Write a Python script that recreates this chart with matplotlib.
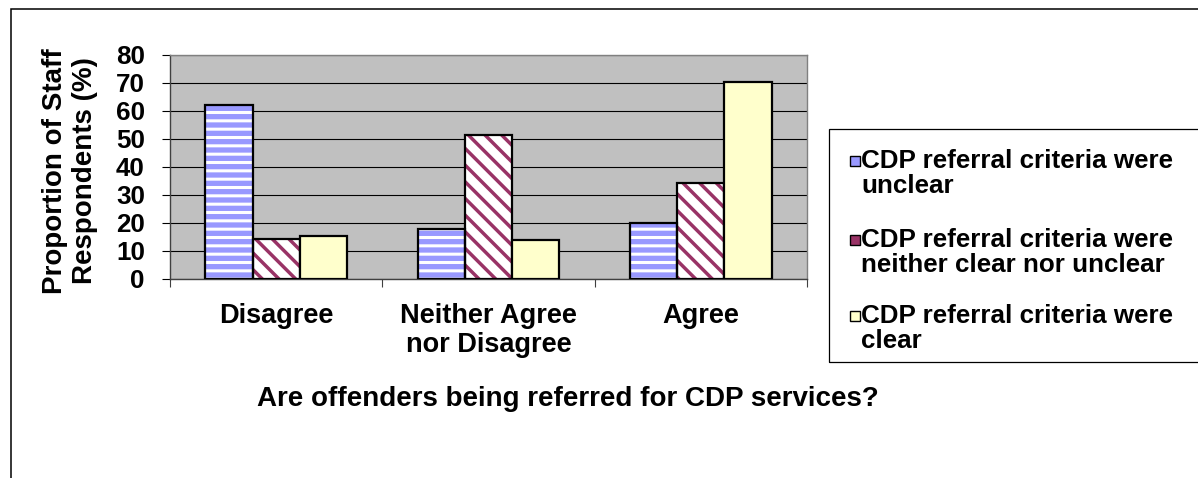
import numpy as np
import matplotlib
matplotlib.use("Agg")
import matplotlib.pyplot as plt
from matplotlib.patches import Rectangle

# survey responses (% of staff respondents)
categories = ["Disagree", "Neither Agree\nnor Disagree", "Agree"]
series_names = [
    "CDP referral criteria were\nunclear",
    "CDP referral criteria were\nneither clear nor unclear",
    "CDP referral criteria were\nclear",
]
unclear = [62, 18, 20]
neither = [14.3, 51.5, 34.4]
clear = [15.5, 14, 70.5]
yticks = [0, 10, 20, 30, 40, 50, 60, 70, 80]

plt.rcParams['font.family'] = ['Liberation Sans', 'DejaVu Sans']
plt.rcParams['font.weight'] = 'bold'

W, H = 1198, 478
fig = plt.figure(figsize=(W / 100, H / 100), dpi=100)

# outer chart frame (runs off the right and bottom)
fig.patches.append(Rectangle((11 / W, -0.2), 1.2, 1.2 - 9 / H, transform=fig.transFigure,
                             fill=False, edgecolor='black', lw=1.1))

ax = fig.add_axes([170 / W, 1 - 279 / H, (807 - 170) / W, (279 - 55) / H])
ax.set_facecolor('#C0C0C0')

x = np.arange(len(categories))
w = 0.222

# blue with thin white horizontal stripes
with plt.rc_context({'hatch.linewidth': 2.2}):
    ax.bar(x - w, unclear, w, color='#9999FF', hatch='--', edgecolor='white', lw=0, zorder=2)
ax.bar(x - w, unclear, w, fill=False, edgecolor='black', lw=1.6, zorder=3)
# maroon diagonal stripes on white
with plt.rc_context({'hatch.linewidth': 2.5}):
    ax.bar(x, neither, w, color='white', hatch='\\\\', edgecolor='#993366', lw=0, zorder=2)
ax.bar(x, neither, w, fill=False, edgecolor='black', lw=1.6, zorder=3)
# plain light yellow
ax.bar(x + w, clear, w, color='#FFFFCC', edgecolor='black', lw=1.6, zorder=3)

ax.set_xlim(-0.5, 2.5)
ax.set_ylim(0, 80)
ax.set_yticks(yticks)
ax.yaxis.grid(True, color='black', lw=0.8)
ax.set_axisbelow(True)
ax.tick_params(axis='y', direction='out', length=6, width=0.8, pad=12, labelsize=18.7,
               colors='black')

ax.set_xticks([-0.5, 0.5, 1.5, 2.5])
ax.set_xticklabels([])
ax.set_xticks(x, minor=True)
ax.set_xticklabels(categories, minor=True, fontsize=19.5, fontweight='bold', linespacing=1.15)
ax.tick_params(axis='x', which='major', direction='out', length=6, width=0.8, color='#404040')
ax.tick_params(axis='x', which='minor', length=0, pad=17)

for s in ['top', 'right']:
    ax.spines[s].set_color('#808080')
    ax.spines[s].set_linewidth(1)
for s in ['left', 'bottom']:
    ax.spines[s].set_color('#404040')
    ax.spines[s].set_linewidth(1)

# axis titles
fig.text(70 / W, 1 - 171 / H, "Proportion of Staff\nRespondents (%)", rotation=90,
         ha='center', va='center', fontsize=20, fontweight='bold', linespacing=1.15)
fig.text(568 / W, 1 - 399 / H, "Are offenders being referred for CDP services?",
         ha='center', va='center', fontsize=20, fontweight='bold')

# legend box, open on the right
fig.patches.append(Rectangle((829 / W, 1 - 362 / H), 0.5, (362 - 129) / H,
                             transform=fig.transFigure, fill=False, edgecolor='black', lw=0.9))
legend_colors = ['#9999FF', '#993366', '#FFFFCC']
legend_tops = [161, 240, 316]
for name, col, yc in zip(series_names, legend_colors, legend_tops):
    fig.patches.append(Rectangle((850 / W, 1 - (yc + 5) / H), 10 / W, 10 / H,
                                 transform=fig.transFigure, facecolor=col,
                                 edgecolor='black', lw=1.0))
    fig.text(861 / W, 1 - (yc - 12) / H, name, ha='left', va='top', fontsize=18.7,
             fontweight='bold', linespacing=1.05)

fig.savefig("out.png", dpi=100)
